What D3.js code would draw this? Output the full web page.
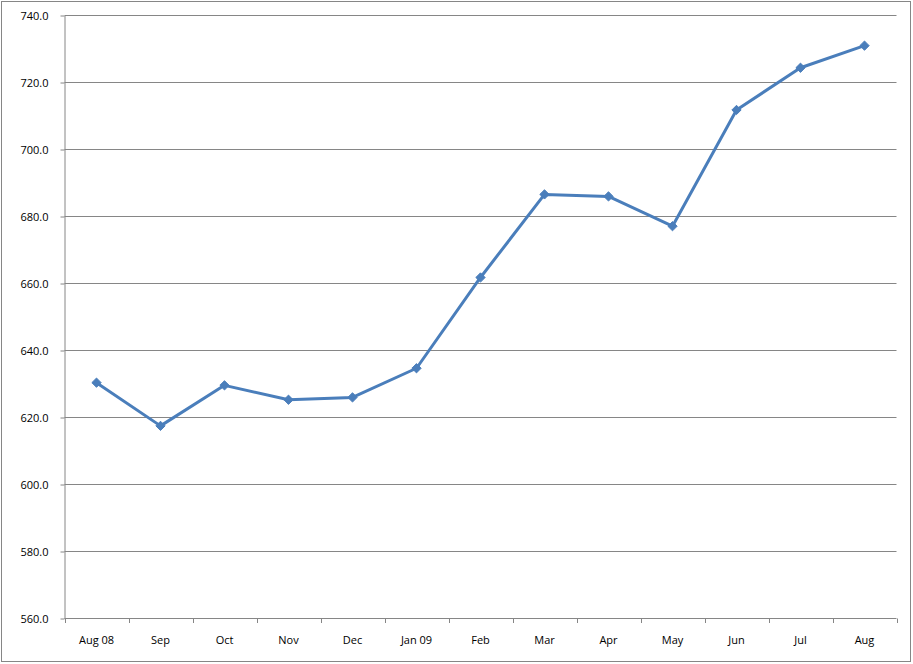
<!DOCTYPE html>
<html>
<head>
<meta charset="utf-8">
<script src="https://cdn.jsdelivr.net/npm/d3@7"></script>
<style>
  body { margin: 0; background: #fff; }
  svg text { font-family: "Open Sans", "Liberation Sans", sans-serif; font-size: 11px; fill: #000; }
</style>
</head>
<body>
<script>
// chart data
var months = ["Aug 08","Sep","Oct","Nov","Dec","Jan 09","Feb","Mar","Apr","May","Jun","Jul","Aug"];
var values = [630.4, 617.5, 629.6, 625.3, 626.0, 634.7, 661.8, 686.6, 686.0, 677.1, 711.8, 724.4, 731.0];
var yTicks = [560, 580, 600, 620, 640, 660, 680, 700, 720, 740];

const width = 913, height = 664;
var margin = {top: 15.5, right: 16.5, bottom: 45.5, left: 64.5};

var svg = d3.select("body").append("svg")
    .attr("width", width)
    .attr("height", height);

// outer chart border
svg.append("rect")
    .attr("x", 1.5).attr("y", 1.5)
    .attr("width", 909).attr("height", 660)
    .style("fill", "#fff")
    .style("stroke", "#868686")
    .style("stroke-width", 1);

var x = d3.scaleBand()
    .domain(months)
    .range([margin.left, width - margin.right]);

var y = d3.scaleLinear()
    .domain([560, 740])
    .range([height - margin.bottom, margin.top]);

// y axis + labels
var yAxis = svg.append("g")
    .attr("transform", "translate(" + margin.left + ",0)")
    .call(d3.axisLeft(y).tickValues(yTicks).tickFormat(d3.format(".1f"))
        .tickSize(4).tickSizeOuter(0).tickPadding(12));
yAxis.select(".domain").style("stroke", "#868686");
yAxis.selectAll(".tick line").style("stroke", "#868686");

// horizontal gridlines
svg.append("g")
    .selectAll("line")
    .data(yTicks)
    .enter().append("line")
    .attr("x1", margin.left)
    .attr("x2", width - margin.right)
    .attr("y1", function(d) { return y(d); })
    .attr("y2", function(d) { return y(d); })
    .style("stroke", "#868686")
    .style("stroke-width", 1);

// x axis, ticks sit between categories
var bandEdges = months.map(function(m) { return x(m); }).concat([x(months[months.length-1]) + x.bandwidth()]);
var xAxis = svg.append("g");
xAxis.selectAll("line")
    .data(bandEdges)
    .enter().append("line")
    .attr("x1", function(d) { return Math.round(d) + 0.5; })
    .attr("x2", function(d) { return Math.round(d) + 0.5; })
    .attr("y1", y(560))
    .attr("y2", y(560) + 4.5)
    .style("stroke", "#868686");
xAxis.selectAll("text")
    .data(months)
    .enter().append("text")
    .attr("x", function(d) { return x(d) + x.bandwidth() / 2; })
    .attr("y", 644)
    .style("text-anchor", "middle")
    .text(function(d) { return d; });

// the line
var line = d3.line()
    .x(function(d, i) { return x(months[i]) + x.bandwidth() / 2; })
    .y(function(d) { return y(d); });

svg.append("path")
    .datum(values)
    .attr("d", line)
    .style("fill", "none")
    .style("stroke", "#4a7ebb")
    .style("stroke-width", 3)
    .style("stroke-linejoin", "round");

// diamond markers
var diamond = d3.symbol().type(d3.symbolDiamond2).size(55);
svg.selectAll(".dot")
    .data(values)
    .enter().append("path")
    .attr("class", "dot")
    .attr("d", diamond)
    .attr("transform", function(d, i) {
        return "translate(" + (x(months[i]) + x.bandwidth() / 2) + "," + y(d) + ")";
    })
    .style("fill", "#4a7ebb")
    .style("stroke", "#4a7ebb")
    .style("stroke-width", 1);
</script>
</body>
</html>
